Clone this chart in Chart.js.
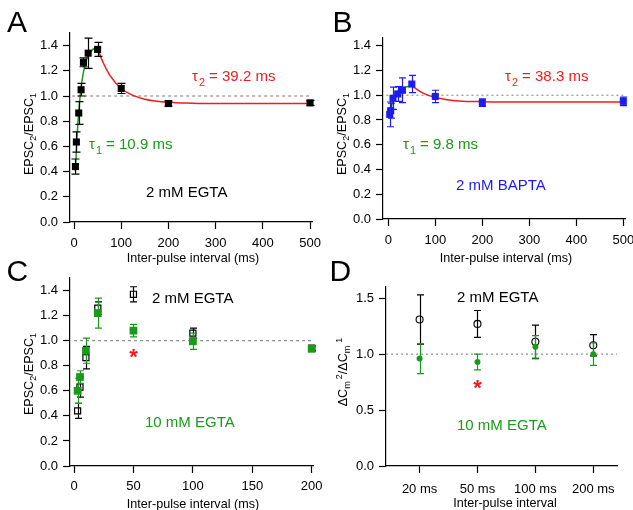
<!DOCTYPE html>
<html><head><meta charset="utf-8">
<script src="https://cdn.jsdelivr.net/npm/chart.js@4/dist/chart.umd.min.js"></script>
<style>
html,body{margin:0;padding:0;background:#fff;}
#wrap{position:relative;width:633px;height:510px;overflow:hidden;}
canvas{position:absolute;left:0;top:0;}
</style></head><body>
<div id="wrap">
<canvas id="cA" width="633" height="510"></canvas>
<canvas id="cB" width="633" height="510"></canvas>
<canvas id="cC" width="633" height="510"></canvas>
<canvas id="cD" width="633" height="510"></canvas>
</div>
<script>
// ---------------- DATA ----------------
// Panel A: 2 mM EGTA
const intervalsA = [3, 5, 10, 15, 20, 30, 50, 100, 200, 500];
const ratioA     = [0.44, 0.635, 0.865, 1.05, 1.267, 1.34, 1.37, 1.06, 0.94, 0.945];
const semA       = [0.06, 0.08, 0.09, 0.05, 0.035, 0.12, 0.055, 0.04, 0.02, 0.02];
const riseXA  = [3, 5, 7, 10, 13, 15, 20, 25, 30, 40, 50];
const riseYA  = [0.40, 0.57, 0.71, 0.87, 1.00, 1.07, 1.19, 1.27, 1.32, 1.37, 1.39];
const decayXA = [50, 60, 75, 100, 125, 150, 200, 250, 300, 400, 500];
const decayYA = [1.38, 1.28, 1.17, 1.06, 1.005, 0.975, 0.95, 0.943, 0.941, 0.94, 0.94];

// Panel B: 2 mM BAPTA
const intervalsB = [3, 5, 10, 20, 30, 50, 100, 200, 500];
const ratioB     = [0.845, 0.875, 0.975, 1.01, 1.04, 1.09, 0.99, 0.94, 0.95];
const semB       = [0.10, 0.06, 0.09, 0.06, 0.10, 0.07, 0.05, 0.03, 0.035];
const riseXB  = [3, 5, 8, 10, 15, 20, 30, 40, 50];
const riseYB  = [0.84, 0.88, 0.93, 0.96, 1.005, 1.033, 1.06, 1.069, 1.073];
const decayXB = [50, 60, 75, 100, 125, 150, 200, 300, 500];
const decayYB = [1.08, 1.049, 1.015, 0.982, 0.964, 0.954, 0.948, 0.945, 0.945];

// Panel C: 2 mM vs 10 mM EGTA
const intervalsC = [3, 5, 10, 20, 50, 100, 200];
const egta2C     = [0.44, 0.63, 0.865, 1.26, 1.37, 1.06, 0.94];
const egta2SemC  = [0.06, 0.08, 0.09, 0.05, 0.06, 0.04, 0.02];
const egta10C    = [0.60, 0.71, 0.92, 1.22, 1.08, 0.995, 0.935];
const egta10SemC = [0.10, 0.05, 0.10, 0.12, 0.05, 0.065, 0.02];
const sigC = [{x: 50, y: 0.915}];

// Panel D: capacitance ratio
const intervalLabelsD = ['20 ms', '50 ms', '100 ms', '200 ms'];
const egta2D     = [1.31, 1.27, 1.11, 1.08];
const egta2SemD  = [0.22, 0.12, 0.15, 0.095];
const egta10D    = [0.96, 0.93, 1.065, 1.0];
const egta10SemD = [0.135, 0.07, 0.10, 0.10];
const sigDIndex = 1, sigDValue = 0.75;

// ticks
const xTicksAB = [0, 100, 200, 300, 400, 500];
const yTicksABC = [0, 0.2, 0.4, 0.6, 0.8, 1.0, 1.2, 1.4];
const xTicksC = [0, 50, 100, 150, 200];
const yTicksD = [0, 0.5, 1.0, 1.5];
const unity = 1.0;

// ---------------- STYLE / HELPERS ----------------
const FONT = '"Liberation Sans", Arial, Helvetica, sans-serif';
const GREEN = '#199a19', RED = '#f21c1c', BLUE = '#1c1cf0', GREY = '#7a7a7a';
const pts = (xs, ys) => xs.map((x, i) => ({x, y: ys[i]}));

const errPlugin = {
  id: 'errbars',
  beforeDatasetDraw(chart, args) {
    const ds = chart.data.datasets[args.index];
    if (!ds.errors) return;
    const {ctx} = chart, x = chart.scales.x, y = chart.scales.y;
    ctx.save();
    ctx.strokeStyle = ds.errColor;
    ctx.lineWidth = 1.2;
    ds.data.forEach((p, i) => {
      const e = ds.errors[i];
      const px = Math.round(x.getPixelForValue(p.x)) + 0.5;
      const y1 = y.getPixelForValue(p.y + e), y2 = y.getPixelForValue(p.y - e);
      const c = ds.capW / 2;
      ctx.beginPath();
      ctx.moveTo(px, y1); ctx.lineTo(px, y2);
      ctx.moveTo(px - c, y1); ctx.lineTo(px + c, y1);
      ctx.moveTo(px - c, y2); ctx.lineTo(px + c, y2);
      ctx.stroke();
    });
    ctx.restore();
  }
};

const glyphPlugin = {
  id: 'glyph',
  afterDatasetsDraw(chart) {
    const {ctx} = chart, x = chart.scales.x, y = chart.scales.y;
    chart.data.datasets.forEach(ds => {
      if (!ds.glyph) return;
      ctx.save();
      ctx.fillStyle = ds.glyphColor;
      ctx.font = 'bold 22px ' + FONT;
      ctx.textAlign = 'center';
      ctx.textBaseline = 'alphabetic';
      ds.data.forEach(p => {
        ctx.fillText(ds.glyph, x.getPixelForValue(p.x), y.getPixelForValue(p.y) + 0.57 * 22);
      });
      ctx.restore();
    });
  }
};

function drawRich(ctx, it) {
  const size = it.size, sub = size * 0.72;
  let total = 0;
  const segs = it.parts.map(p => {
    const fs = (p.sub || p.sup) ? sub : size;
    ctx.font = `${fs}px ${FONT}`;
    const w = ctx.measureText(p.t).width + (p.pre || 0);
    total += w;
    return {p, fs, w};
  });
  ctx.save();
  ctx.translate(it.x, it.y);
  if (it.rotate) ctx.rotate(-Math.PI / 2);
  ctx.fillStyle = it.color || '#000';
  ctx.textBaseline = 'alphabetic';
  ctx.textAlign = 'left';
  let cx = it.align === 'center' ? -total / 2 : 0;
  const base = size * 0.358;
  segs.forEach(s => {
    ctx.font = `${s.fs}px ${FONT}`;
    let dy = base;
    if (s.p.sub) dy += size * 0.3;
    if (s.p.sup) dy -= size * 0.38;
    ctx.fillText(s.p.t, cx + (s.p.pre || 0), dy);
    cx += s.w;
  });
  ctx.restore();
}
const richTextPlugin = {
  id: 'richText',
  afterDraw(chart, args, opts) { (opts.items || []).forEach(it => drawRich(chart.ctx, it)); }
};

function axis(c, dir, size) {
  return {
    type: 'linear', position: dir === 'x' ? 'bottom' : 'left', min: c.min, max: c.max,
    afterBuildTicks: s => { s.ticks = c.ticks.map(v => ({value: v})); },
    afterFit: s => {
      if (dir === 'x') s.height = size; else s.width = size;
      s.paddingLeft = s.paddingRight = s.paddingTop = s.paddingBottom = 0;
    },
    ticks: {callback: c.fmt, color: '#000', font: {family: FONT, size: 13}, padding: c.pad,
            autoSkip: false, maxRotation: 0, minRotation: 0},
    grid: {drawOnChartArea: false, drawTicks: true, tickLength: 7, tickColor: '#000', tickWidth: 1.2},
    border: {display: true, color: '#000', width: 1.2},
    title: {display: false}
  };
}

function panel(id, box, xcfg, ycfg, datasets, texts) {
  const YW = 60, XH = 30;
  return new Chart(document.getElementById(id), {
    type: 'scatter',
    data: {datasets},
    options: {
      responsive: false, animation: false, devicePixelRatio: 1, events: [],
      layout: {padding: {left: box.l - YW, right: 633 - box.r, top: box.t, bottom: 510 - box.b - XH}},
      plugins: {legend: {display: false}, tooltip: {enabled: false}, richText: {items: texts}},
      scales: {x: axis(xcfg, 'x', XH), y: axis(ycfg, 'y', YW)}
    },
    plugins: [errPlugin, glyphPlugin, richTextPlugin]
  });
}

const curve = (data, color, order) => ({data, showLine: true, borderColor: color, borderWidth: 1.5,
  pointRadius: 0, cubicInterpolationMode: 'monotone', order, clip: false});
const refLine = (x0, x1, order, dash) => ({data: [{x: x0, y: unity}, {x: x1, y: unity}], showLine: true,
  borderColor: GREY, borderWidth: 1, borderDash: dash, pointRadius: 0, order});
const fmt1 = v => v.toFixed(1);
const fmt0 = v => String(v);
const epscTitle = (x, y) => ({parts: [{t: 'EPSC'}, {t: '2', sub: true}, {t: '/EPSC'}, {t: '1', sub: true}],
  x, y, size: 12.6, rotate: true, align: 'center'});
const tauLabel = (n, rest, x, y, color) => ({parts: [{t: 'τ'}, {t: n, sub: true, pre: 1}, {t: rest}],
  x, y, size: 15, color});

// ---------------- PANEL A ----------------
panel('cA', {l: 70, r: 312, t: 33, b: 222},
  {min: -8.5, max: 504.2, ticks: xTicksAB, fmt: fmt0, pad: 7},
  {min: 0, max: 1.5, ticks: yTicksABC, fmt: fmt1, pad: 5},
  [
    {data: pts(intervalsA, ratioA), errors: semA, capW: 8, errColor: '#000', pointStyle: 'rect', pointRadius: 5,
     pointBackgroundColor: '#000', pointBorderColor: '#000', pointBorderWidth: 0, clip: false, order: 0},
    curve(pts(riseXA, riseYA), GREEN, 1),
    curve(pts(decayXA, decayYA), RED, 2),
    refLine(-4, 500, 3, [3, 3])
  ],
  [
    {parts: [{t: 'A'}], x: 7, y: 21, size: 30},
    tauLabel('2', ' = 39.2 ms', 192, 76, RED),
    tauLabel('1', ' = 10.9 ms', 89, 144, GREEN),
    {parts: [{t: '2 mM EGTA'}], x: 146, y: 192, size: 15},
    {parts: [{t: 'Inter-pulse interval (ms)'}], x: 193, y: 257, size: 12.6, align: 'center'},
    epscTitle(28, 134)
  ]);

// ---------------- PANEL B ----------------
panel('cB', {l: 383, r: 625, t: 38, b: 219},
  {min: -11.3, max: 503.6, ticks: xTicksAB, fmt: fmt0, pad: 7},
  {min: 0, max: 1.462, ticks: yTicksABC, fmt: fmt1, pad: 5},
  [
    {data: pts(intervalsB, ratioB), errors: semB, capW: 7, errColor: BLUE, pointStyle: 'rect', pointRadius: 5,
     pointBackgroundColor: BLUE, pointBorderColor: BLUE, pointBorderWidth: 0, clip: false, order: 0},
    curve(pts(riseXB, riseYB), GREEN, 1),
    curve(pts(decayXB, decayYB), RED, 2),
    refLine(-4, 500, 3, [2, 3])
  ],
  [
    {parts: [{t: 'B'}], x: 332.5, y: 21, size: 30},
    tauLabel('2', ' = 38.3 ms', 505, 76, RED),
    tauLabel('1', ' = 9.8 ms', 403, 144, GREEN),
    {parts: [{t: '2 mM BAPTA'}], x: 456, y: 185, size: 15, color: BLUE},
    {parts: [{t: 'Inter-pulse interval (ms)'}], x: 506, y: 257, size: 12.6, align: 'center'},
    epscTitle(341, 134)
  ]);

// ---------------- PANEL C ----------------
panel('cC', {l: 70, r: 313, t: 278, b: 466},
  {min: -3.4, max: 201.1, ticks: xTicksC, fmt: fmt0, pad: 6},
  {min: 0, max: 1.5, ticks: yTicksABC, fmt: fmt1, pad: 5},
  [
    {data: sigC, glyph: '*', glyphColor: RED, pointRadius: 0, order: 0},
    {data: pts(intervalsC, egta10C), errors: egta10SemC, capW: 7, errColor: GREEN, pointStyle: 'rect', pointRadius: 5.5,
     pointBackgroundColor: GREEN, pointBorderColor: GREEN, pointBorderWidth: 0, clip: false, order: 1},
    {data: pts(intervalsC, egta2C), errors: egta2SemC, capW: 7, errColor: '#000', pointStyle: 'rect', pointRadius: 4.3,
     pointBackgroundColor: 'rgba(255,255,255,0)', pointBorderColor: '#000', pointBorderWidth: 1.2, clip: false, order: 2},
    refLine(0, 200, 3, [3, 3])
  ],
  [
    {parts: [{t: 'C'}], x: 6.5, y: 270, size: 30},
    {parts: [{t: '2 mM EGTA'}], x: 152, y: 298, size: 15},
    {parts: [{t: '10 mM EGTA'}], x: 145, y: 422, size: 15, color: GREEN},
    {parts: [{t: 'Inter-pulse interval (ms)'}], x: 193, y: 503, size: 12.6, align: 'center'},
    epscTitle(28, 374)
  ]);

// ---------------- PANEL D ----------------
const catPosD = intervalLabelsD.map((_, i) => i + 1);
panel('cD', {l: 386, r: 617, t: 287, b: 466},
  {min: 0.42, max: 4.41, ticks: catPosD, fmt: v => intervalLabelsD[v - 1], pad: 9},
  {min: 0, max: 1.6, ticks: yTicksD, fmt: fmt1, pad: 5},
  [
    {data: [{x: catPosD[sigDIndex], y: sigDValue}], glyph: '*', glyphColor: RED, pointRadius: 0, order: 0},
    {data: pts(catPosD, egta10D), errors: egta10SemD, capW: 7, errColor: GREEN, pointStyle: 'circle', pointRadius: 3,
     pointBackgroundColor: GREEN, pointBorderColor: GREEN, pointBorderWidth: 0, clip: false, order: 1},
    {data: pts(catPosD, egta2D), errors: egta2SemD, capW: 7, errColor: '#000', pointStyle: 'circle', pointRadius: 3.5,
     pointBackgroundColor: 'rgba(255,255,255,0)', pointBorderColor: '#000', pointBorderWidth: 1.1, clip: false, order: 2},
    refLine(0.42, 4.41, 3, [2, 3])
  ],
  [
    {parts: [{t: 'D'}], x: 329.5, y: 270, size: 30},
    {parts: [{t: '2 mM EGTA'}], x: 457, y: 297, size: 15},
    {parts: [{t: '10 mM EGTA'}], x: 457, y: 425, size: 15, color: GREEN},
    {parts: [{t: 'Inter-pulse interval'}], x: 505, y: 502, size: 12.6, align: 'center'},
    {parts: [{t: 'ΔC'}, {t: 'm', sub: true}, {t: '2', sup: true, pre: 2}, {t: '/ΔC'}, {t: 'm', sub: true}, {t: '1', sup: true, pre: 3}],
     x: 342, y: 372, size: 12.6, rotate: true, align: 'center'}
  ]);
</script>
</body></html>
